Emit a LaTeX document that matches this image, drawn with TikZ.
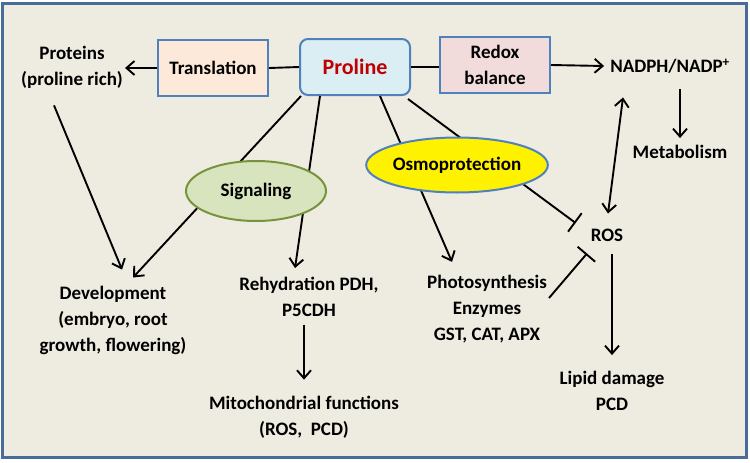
\documentclass[tikz,border=0pt]{standalone}
\usepackage{fontspec}
\setmainfont{Carlito}
\usetikzlibrary{arrows.meta,positioning,calc,shapes.geometric}
\definecolor{frameblue}{HTML}{4A6C9B}
\definecolor{tanback}{HTML}{EEECE1}
\definecolor{boxblue}{HTML}{4F81BD}
\definecolor{peach}{HTML}{FDE9D9}
\definecolor{iceblue}{HTML}{DBEEF4}
\definecolor{rosepink}{HTML}{F2DCDB}
\definecolor{leafgreen}{HTML}{D7E4BD}
\definecolor{olivegreen}{HTML}{77933C}
\definecolor{darkred}{HTML}{C00000}
\begin{document}
\begin{tikzpicture}[x=1pt,y=-1pt,
  font=\fontsize{19}{26}\selectfont\bfseries,
  box/.style={draw=boxblue,line width=2pt,minimum width=110pt,minimum height=56pt,align=center,inner sep=2pt},
  txt/.style={align=center,inner sep=2pt},
  oval/.style={ellipse,line width=2pt,inner sep=0pt},
  ln/.style={line width=1.9pt},
  arr/.style={ln,-{Straight Barb[length=8pt,width=14pt]}},
  dbl/.style={ln,{Straight Barb[length=8pt,width=14pt]}-{Straight Barb[length=8pt,width=14pt]}},
  blk/.style={ln,-{Bar[width=23pt,line width=1.9pt]}}
]
\useasboundingbox (0,0) rectangle (750,463);
\fill[white] (0,0) rectangle (750,463);
\draw[frameblue,fill=tanback,line width=3pt] (2.5,3.5) rectangle (746.5,457.5);
% boxes in the top row
\node[box,fill=peach] (trans) at (213,68) {Translation};
\node[box,fill=iceblue,rounded corners=8pt,text=darkred,font=\fontsize{22}{26}\selectfont\bfseries] (pro) at (355,67) {Proline};
\node[box,fill=rosepink] (redox) at (495,65) {Redox\\balance};
% plain labels
\node[txt] (proteins) at (72,67) {Proteins\\(proline rich)};
\node[txt] (nadph) at (670,66) {NADPH/NADP\textsuperscript{+}};
\node[txt] (metab) at (680,152) {Metabolism};
\node[txt] (ros) at (607,235) {ROS};
\node[txt] (devel) at (113,320) {Development\\(embryo, root\\growth, flowering)};
\node[txt] (rehyd) at (309,297) {Rehydration PDH,\\P5CDH};
\node[txt] (mito) at (304,417) {Mitochondrial functions\\(ROS,\ \ PCD)};
\node[txt] (photo) at (487,309) {Photosynthesis\\Enzymes\\GST, CAT, APX};
\node[txt] (lipid) at (612,391) {Lipid damage\\PCD};
% connectors
\draw[ln] (trans.east) -- (pro.west);
\draw[arr] (trans.west) -- (trans.west -| proteins.east);
\draw[ln] (pro.east) -- (pro.east -| redox.west);
\draw[arr] (redox.east) -- ([xshift=-4pt]nadph.west);
\draw[arr] ([yshift=-14pt]nadph.south -| metab.north) -- ([yshift=5pt]metab.north);
\draw[dbl] ([xshift=-47pt,yshift=-22pt]nadph.south) -- ([xshift=1pt,yshift=13pt]ros.north);
\draw[arr] ([xshift=2pt]pro.south west) -- ([xshift=20pt,yshift=6pt]devel.north);
\draw[arr] ([xshift=-35pt]pro.south) -- ([xshift=-14pt,yshift=7pt]rehyd.north);
\draw[arr] ([xshift=25pt]pro.south) -- ([xshift=-35pt,yshift=11pt]photo.north);
\draw[blk] ([xshift=-3pt,yshift=-3pt]pro.south east) -- ([xshift=-13pt,yshift=12pt]ros.west);
\draw[blk] ([yshift=11pt]photo.east) -- ([xshift=-20pt,yshift=-10pt]ros.south);
\draw[arr] ([yshift=-11pt]ros.south -| lipid.north) -- ([yshift=14pt]lipid.north);
\draw[arr] ([xshift=-18pt,yshift=-15pt]proteins.south) -- ([xshift=9pt,yshift=14pt]devel.north);
\draw[arr] ([yshift=-6pt]rehyd.south -| mito.north) -- ([yshift=14pt]mito.north);
% ovals on top of the lines
\node[oval,draw=olivegreen,fill=leafgreen,minimum width=140pt,minimum height=60pt] (signal) at (256,191) {Signaling};
\node[oval,draw=boxblue,fill=yellow,minimum width=164pt,minimum height=55pt] (osmo) at (457,165) {Osmoprotection};
\end{tikzpicture}
\end{document}
